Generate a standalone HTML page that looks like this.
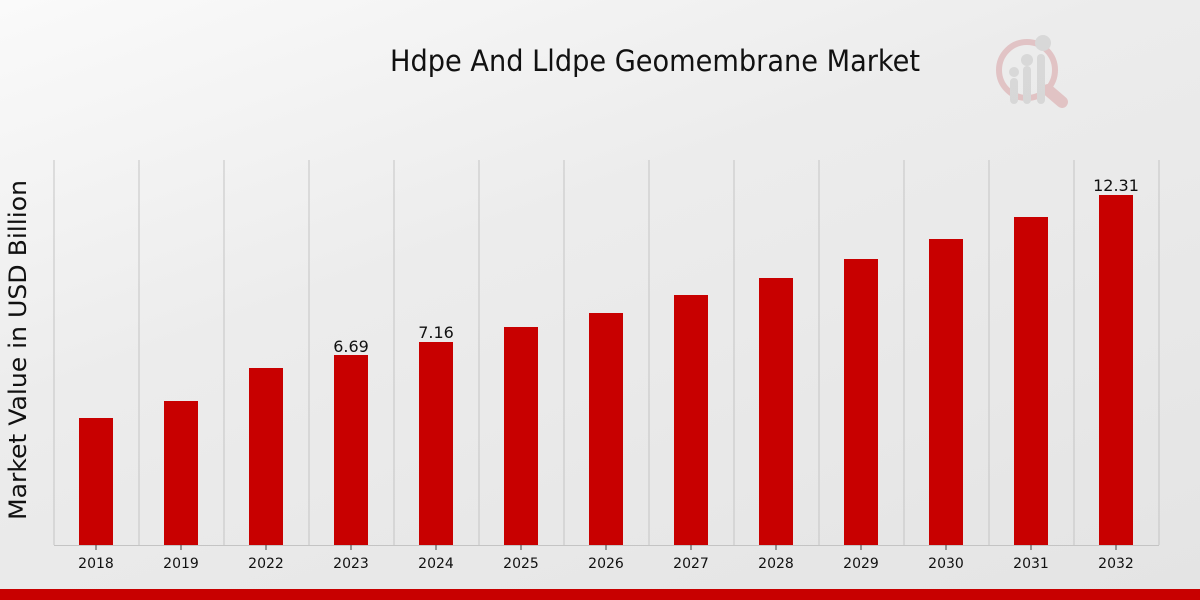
<!DOCTYPE html>
<html><head><meta charset="utf-8"><style>
html,body{margin:0;padding:0;}
body{width:1200px;height:600px;overflow:hidden;background:linear-gradient(160deg,#fafafa 0%,#ececec 40%,#e4e4e4 100%);font-family:"DejaVu Sans","Liberation Sans",sans-serif;}
</style></head><body>
<svg width="1200" height="600" xmlns="http://www.w3.org/2000/svg" style="position:absolute;left:0;top:0">
<text x="655" y="71" text-anchor="middle" font-family="DejaVu Sans Condensed, DejaVu Sans, sans-serif" font-size="29" fill="#111" style="font-stretch:condensed" textLength="530" lengthAdjust="spacingAndGlyphs">Hdpe And Lldpe Geomembrane Market</text>
<g opacity="0.55">
<circle cx="1027" cy="70" r="28" fill="none" stroke="#d9a3a6" stroke-width="6"/>
<line x1="1048" y1="90" x2="1062" y2="102" stroke="#d9a3a6" stroke-width="12" stroke-linecap="round"/>
<rect x="1010" y="78" width="8" height="26" rx="4" fill="#c8c8c8"/>
<rect x="1023" y="66" width="8" height="38" rx="4" fill="#c8c8c8"/>
<rect x="1037" y="54" width="8" height="50" rx="4" fill="#c8c8c8"/>
<circle cx="1014" cy="72" r="5" fill="#c8c8c8"/><circle cx="1027" cy="60" r="6" fill="#c8c8c8"/><circle cx="1043" cy="43" r="8" fill="#c8c8c8"/>
</g>
<g stroke="#c4c4c4" stroke-width="1">
<line x1="54" y1="160" x2="54" y2="545"/><line x1="139" y1="160" x2="139" y2="545"/><line x1="224" y1="160" x2="224" y2="545"/><line x1="309" y1="160" x2="309" y2="545"/><line x1="394" y1="160" x2="394" y2="545"/><line x1="479" y1="160" x2="479" y2="545"/><line x1="564" y1="160" x2="564" y2="545"/><line x1="649" y1="160" x2="649" y2="545"/><line x1="734" y1="160" x2="734" y2="545"/><line x1="819" y1="160" x2="819" y2="545"/><line x1="904" y1="160" x2="904" y2="545"/><line x1="989" y1="160" x2="989" y2="545"/><line x1="1074" y1="160" x2="1074" y2="545"/><line x1="1159" y1="160" x2="1159" y2="545"/>
<line x1="54" y1="545.5" x2="1159" y2="545.5"/>
</g>
<g fill="#c80000">
<rect x="79" y="418" width="34" height="127"/><rect x="164" y="401" width="34" height="144"/><rect x="249" y="368" width="34" height="177"/><rect x="334" y="355" width="34" height="190"/><rect x="419" y="342" width="34" height="203"/><rect x="504" y="327" width="34" height="218"/><rect x="589" y="313" width="34" height="232"/><rect x="674" y="295" width="34" height="250"/><rect x="759" y="278" width="34" height="267"/><rect x="844" y="259" width="34" height="286"/><rect x="929" y="239" width="34" height="306"/><rect x="1014" y="217" width="34" height="328"/><rect x="1099" y="195" width="34" height="350"/>
</g>
<g stroke="#444"><line x1="96" y1="545" x2="96" y2="550"/><line x1="181" y1="545" x2="181" y2="550"/><line x1="266" y1="545" x2="266" y2="550"/><line x1="351" y1="545" x2="351" y2="550"/><line x1="436" y1="545" x2="436" y2="550"/><line x1="521" y1="545" x2="521" y2="550"/><line x1="606" y1="545" x2="606" y2="550"/><line x1="691" y1="545" x2="691" y2="550"/><line x1="776" y1="545" x2="776" y2="550"/><line x1="861" y1="545" x2="861" y2="550"/><line x1="946" y1="545" x2="946" y2="550"/><line x1="1031" y1="545" x2="1031" y2="550"/><line x1="1116" y1="545" x2="1116" y2="550"/></g>
<g font-size="14" fill="#111" text-anchor="middle">
<text x="96" y="568">2018</text><text x="181" y="568">2019</text><text x="266" y="568">2022</text><text x="351" y="568">2023</text><text x="436" y="568">2024</text><text x="521" y="568">2025</text><text x="606" y="568">2026</text><text x="691" y="568">2027</text><text x="776" y="568">2028</text><text x="861" y="568">2029</text><text x="946" y="568">2030</text><text x="1031" y="568">2031</text><text x="1116" y="568">2032</text>
</g>
<g font-size="16" fill="#111" text-anchor="middle">
<text x="351" y="352">6.69</text><text x="436" y="338">7.16</text><text x="1116" y="191">12.31</text>
</g>
<text transform="translate(26,350) rotate(-90)" text-anchor="middle" font-size="24" fill="#111" textLength="340" lengthAdjust="spacingAndGlyphs">Market Value in USD Billion</text>
<rect x="0" y="589" width="1200" height="11" fill="#c80000"/>
</svg>
</body></html>
